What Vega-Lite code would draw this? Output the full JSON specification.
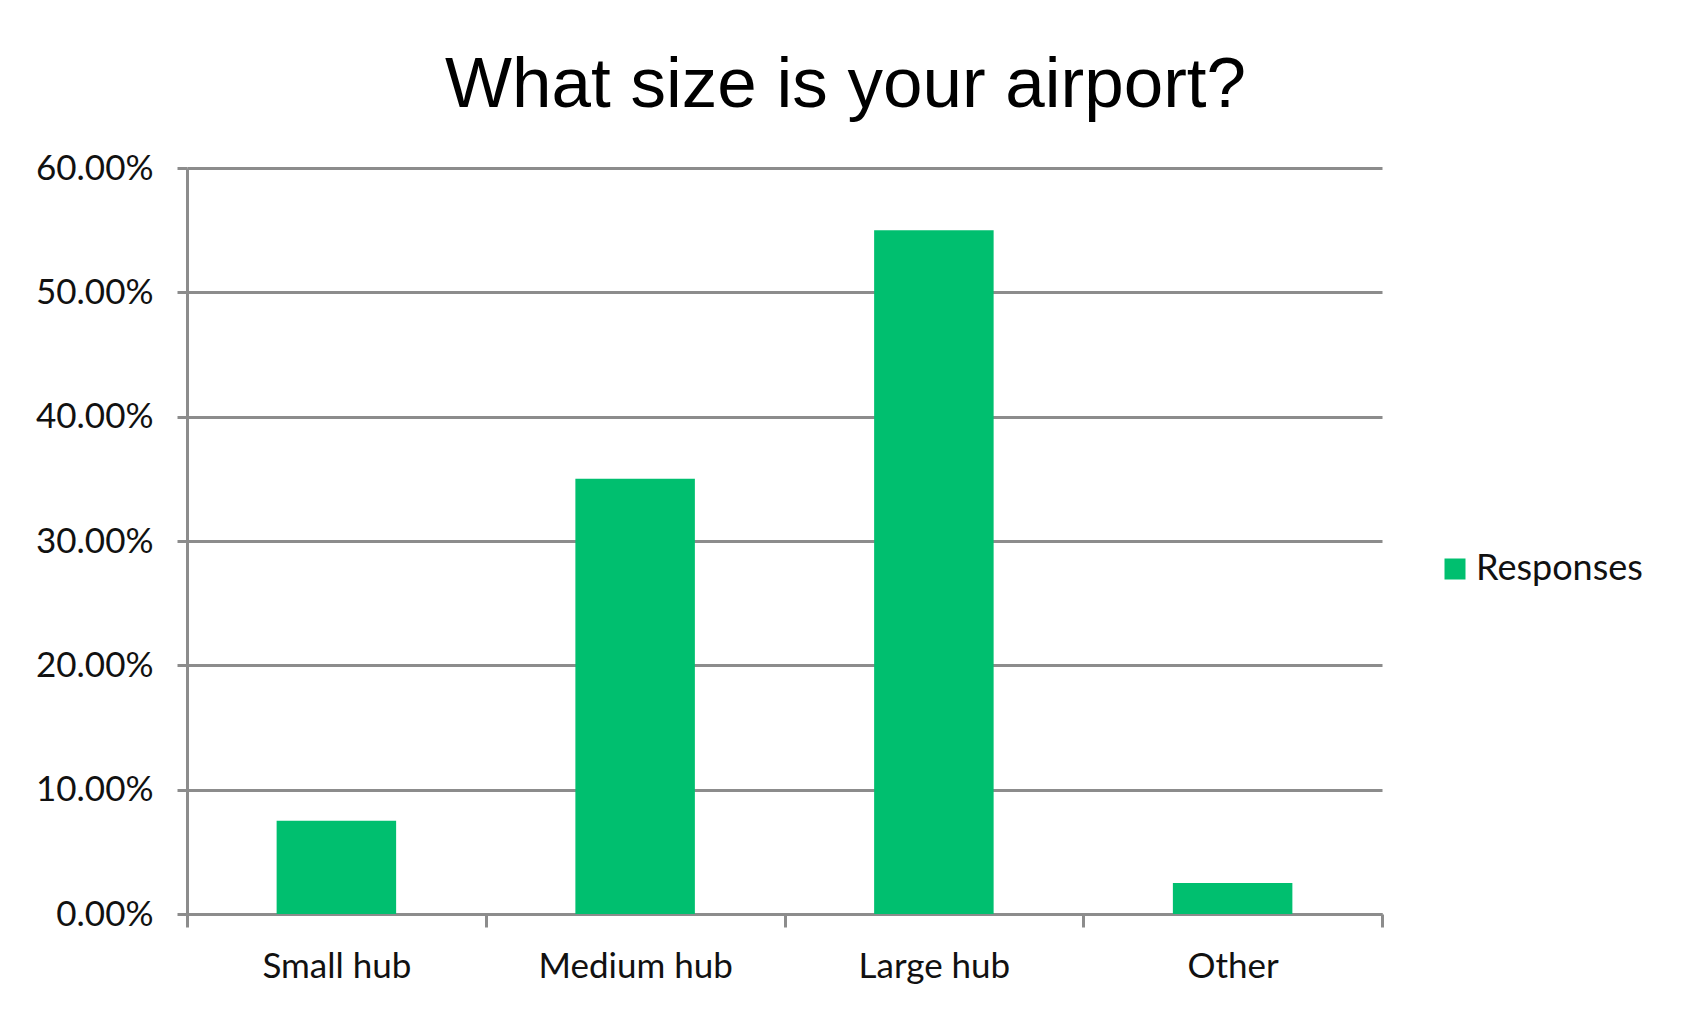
{
  "$schema": "https://vega.github.io/schema/vega-lite/v6.json",
  "autosize": {"type": "none"},
  "width": 1195,
  "height": 746,
  "padding": {"left": 187, "top": 168, "right": 306, "bottom": 97},
  "background": "white",
  "title": {
    "text": "What size is your airport?",
    "font": "Liberation Sans",
    "fontSize": 71,
    "fontWeight": "normal",
    "color": "#000000",
    "anchor": "middle",
    "baseline": "alphabetic",
    "offset": 64,
    "dx": 61,
    "dy": 91
  },
  "data": {
    "values": [
      {"size": "Small hub", "share": 0.075, "series": "Responses"},
      {"size": "Medium hub", "share": 0.35, "series": "Responses"},
      {"size": "Large hub", "share": 0.55, "series": "Responses"},
      {"size": "Other", "share": 0.025, "series": "Responses"}
    ]
  },
  "mark": {"type": "bar", "width": {"band": 0.4}},
  "encoding": {
    "x": {
      "field": "size",
      "type": "nominal",
      "sort": null,
      "scale": {"paddingInner": 0, "paddingOuter": 0},
      "axis": {
        "title": null,
        "labelAngle": 0,
        "labelFont": "Lato",
        "labelFontSize": 35,
        "labelColor": "#111111",
        "labelPadding": 22,
        "labelLimit": 0,
        "tickBand": "extent",
        "tickSize": 13,
        "tickWidth": 3,
        "tickColor": "#8c8c8c",
        "domainColor": "#8c8c8c",
        "domainWidth": 3,
        "grid": false
      }
    },
    "y": {
      "field": "share",
      "type": "quantitative",
      "scale": {"domain": [0, 0.6], "nice": false},
      "axis": {
        "title": null,
        "format": ".2%",
        "values": [0, 0.1, 0.2, 0.3, 0.4, 0.5, 0.6],
        "labelFont": "Lato",
        "labelFontSize": 35,
        "labelColor": "#111111",
        "labelPadding": 24,
        "tickSize": 10,
        "tickWidth": 3,
        "tickColor": "#8c8c8c",
        "domainColor": "#8c8c8c",
        "domainWidth": 3,
        "grid": true,
        "gridColor": "#8c8c8c",
        "gridWidth": 3
      }
    },
    "color": {
      "field": "series",
      "type": "nominal",
      "scale": {"domain": ["Responses"], "range": ["#00bf6f"]},
      "legend": {
        "title": null,
        "orient": "none",
        "legendX": 1250,
        "legendY": 383,
        "padding": 0,
        "symbolType": "square",
        "symbolSize": 441,
        "symbolStrokeWidth": 0,
        "labelFont": "Lato",
        "labelFontSize": 36,
        "labelColor": "#111111",
        "labelOffset": 3,
        "labelLimit": 0
      }
    }
  },
  "config": {
    "view": {"stroke": null}
  }
}
